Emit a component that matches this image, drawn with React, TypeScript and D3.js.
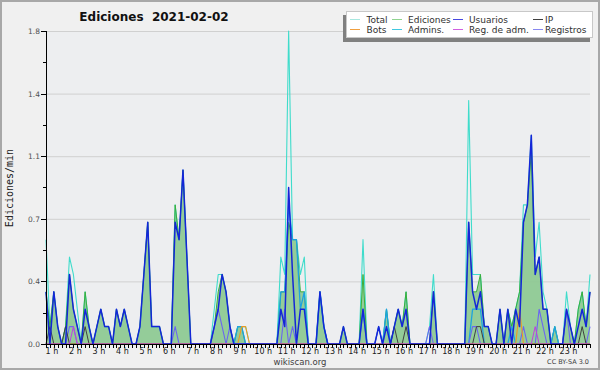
import React, { useEffect, useRef } from 'react';
import * as d3 from 'd3';

// one value every 10 minutes, first slot at 00:50
const total = [
  0.6, 0.1, 0.3, 0.1, 0, 0.1, 0.5, 0.4, 0.2, 0,
  0.3, 0.1, 0, 0.1, 0.2, 0.1, 0.1, 0, 0.2, 0.1,
  0.2, 0.1, 0, 0, 0.1, 0.4, 0.7, 0.1, 0.1, 0.1,
  0, 0, 0, 0.8, 0.6, 1.0, 0.5, 0, 0, 0,
  0, 0, 0, 0.2, 0.4, 0.4, 0.3, 0.1, 0, 0.1,
  0.1, 0.1, 0, 0, 0, 0, 0, 0, 0, 0,
  0.5, 0.4, 1.8, 0.6, 0.6, 0.4, 0.5, 0, 0, 0,
  0.3, 0.1, 0, 0, 0, 0, 0.1, 0, 0, 0,
  0, 0.6, 0, 0, 0, 0.1, 0, 0.2, 0, 0.1,
  0.2, 0.1, 0.3, 0, 0, 0, 0, 0, 0.1, 0.4,
  0, 0, 0, 0, 0, 0, 0, 0, 1.4, 0.4,
  0.4, 0.4, 0.1, 0.1, 0, 0, 0.2, 0, 0.2, 0.1,
  0.2, 0.3, 0.8, 0.8, 1.2, 0.5, 0.7, 0.3, 0.2, 0,
  0.1, 0, 0, 0.3, 0.1, 0, 0.2, 0.3, 0.1, 0.4,
];
const ediciones = [
  0.3, 0.1, 0.3, 0.1, 0, 0.1, 0.4, 0.2, 0.1, 0,
  0.3, 0.1, 0, 0.1, 0.2, 0.1, 0.1, 0, 0.2, 0.1,
  0.2, 0.1, 0, 0, 0.1, 0.4, 0.7, 0.1, 0.1, 0.1,
  0, 0, 0, 0.8, 0.6, 1.0, 0.5, 0, 0, 0,
  0, 0, 0, 0.1, 0.3, 0.4, 0.3, 0.1, 0, 0.1,
  0.1, 0, 0, 0, 0, 0, 0, 0, 0, 0,
  0.3, 0.3, 0.7, 0.6, 0.6, 0.3, 0.3, 0, 0, 0,
  0.3, 0.1, 0, 0, 0, 0, 0.1, 0, 0, 0,
  0, 0.4, 0, 0, 0, 0, 0, 0.2, 0, 0.1,
  0.2, 0.1, 0.3, 0, 0, 0, 0, 0, 0, 0.3,
  0, 0, 0, 0, 0, 0, 0, 0, 0.7, 0.3,
  0.3, 0.4, 0.1, 0.1, 0, 0, 0.2, 0, 0.2, 0.1,
  0.2, 0.3, 0.7, 0.8, 1.1, 0.4, 0.5, 0.2, 0.2, 0,
  0.1, 0, 0, 0.2, 0.1, 0, 0.2, 0.3, 0.1, 0.3,
];
const usuarios = [
  0.3, 0, 0.3, 0.1, 0, 0, 0.4, 0.2, 0.1, 0,
  0.2, 0.1, 0, 0.1, 0.2, 0.1, 0.1, 0, 0.2, 0.1,
  0.2, 0.1, 0, 0, 0.1, 0.4, 0.7, 0.1, 0.1, 0.1,
  0, 0, 0, 0.7, 0.6, 1.0, 0.5, 0, 0, 0,
  0, 0, 0, 0.1, 0.2, 0.4, 0.3, 0.1, 0, 0,
  0, 0, 0, 0, 0, 0, 0, 0, 0, 0,
  0.2, 0.1, 0.9, 0.4, 0, 0.2, 0.2, 0, 0, 0,
  0.3, 0.1, 0, 0, 0, 0, 0.1, 0, 0, 0,
  0, 0.2, 0, 0, 0, 0.1, 0, 0.1, 0, 0.1,
  0.2, 0.1, 0.2, 0, 0, 0, 0, 0, 0, 0.3,
  0, 0, 0, 0, 0, 0, 0, 0, 0.7, 0.3,
  0.2, 0.3, 0.1, 0.1, 0, 0, 0.2, 0, 0.2, 0,
  0.2, 0.1, 0.7, 0.8, 1.2, 0.4, 0.5, 0.2, 0.2, 0,
  0, 0, 0, 0.2, 0.1, 0, 0.1, 0.2, 0.1, 0.3,
];
const ip = [
  0, 0.1, 0, 0, 0, 0.1, 0, 0, 0, 0,
  0.1, 0, 0, 0, 0, 0, 0, 0, 0, 0,
  0, 0, 0, 0, 0, 0, 0, 0, 0, 0,
  0, 0, 0, 0, 0, 0, 0, 0, 0, 0,
  0, 0, 0, 0, 0, 0, 0, 0, 0, 0,
  0, 0, 0, 0, 0, 0, 0, 0, 0, 0,
  0, 0, 0, 0, 0, 0, 0, 0, 0, 0,
  0, 0, 0, 0, 0, 0, 0, 0, 0, 0,
  0, 0, 0, 0, 0, 0, 0, 0, 0, 0.1,
  0, 0, 0.1, 0, 0, 0, 0, 0, 0, 0,
  0, 0, 0, 0, 0, 0, 0, 0, 0, 0,
  0.1, 0.1, 0, 0, 0, 0, 0, 0, 0, 0,
  0, 0, 0, 0, 0, 0, 0, 0, 0, 0,
  0, 0, 0, 0, 0, 0, 0, 0.1, 0, 0,
];
const bots = [
  0, 0, 0, 0, 0, 0, 0, 0, 0, 0,
  0, 0, 0, 0, 0, 0, 0, 0, 0, 0,
  0, 0, 0, 0, 0, 0, 0, 0, 0, 0,
  0, 0, 0, 0, 0, 0, 0, 0, 0, 0,
  0, 0, 0, 0, 0, 0, 0, 0, 0, 0,
  0.1, 0.1, 0, 0, 0, 0, 0, 0, 0, 0,
  0, 0, 0, 0, 0, 0, 0, 0, 0, 0,
  0, 0, 0, 0, 0, 0, 0, 0, 0, 0,
  0, 0, 0, 0, 0, 0, 0, 0, 0, 0,
  0, 0, 0, 0, 0, 0, 0, 0, 0, 0,
  0, 0, 0, 0, 0, 0, 0, 0, 0, 0,
  0, 0, 0, 0, 0, 0, 0, 0, 0, 0,
  0, 0.2, 0, 0, 0, 0, 0, 0, 0, 0,
  0, 0, 0, 0, 0, 0, 0, 0, 0, 0,
];
const admins = [
  0, 0, 0, 0, 0, 0, 0, 0, 0, 0,
  0, 0, 0, 0, 0, 0, 0, 0, 0, 0,
  0, 0, 0, 0, 0, 0, 0, 0, 0, 0,
  0, 0, 0, 0, 0, 0, 0, 0, 0, 0,
  0, 0, 0, 0, 0, 0, 0, 0, 0, 0.1,
  0.1, 0, 0, 0, 0, 0, 0, 0, 0, 0,
  0.3, 0.3, 0.8, 0.6, 0.6, 0.2, 0.3, 0, 0, 0,
  0.3, 0.1, 0, 0, 0, 0, 0, 0, 0, 0,
  0, 0.2, 0, 0, 0, 0, 0, 0.2, 0, 0,
  0, 0, 0, 0, 0, 0, 0, 0, 0, 0,
  0, 0, 0, 0, 0, 0, 0, 0, 0, 0.2,
  0.2, 0.2, 0, 0, 0, 0, 0, 0, 0, 0.1,
  0, 0, 0, 0, 0, 0, 0, 0, 0, 0,
  0.1, 0, 0, 0, 0, 0, 0, 0, 0, 0,
];
const regAdm = [
  0, 0, 0, 0, 0, 0, 0, 0.1, 0, 0,
  0, 0, 0, 0, 0, 0, 0, 0, 0, 0,
  0, 0, 0, 0, 0, 0, 0, 0, 0, 0,
  0, 0, 0, 0, 0, 0, 0, 0, 0, 0,
  0, 0, 0, 0, 0, 0, 0, 0, 0, 0,
  0, 0, 0, 0, 0, 0, 0, 0, 0, 0,
  0, 0, 0, 0, 0, 0, 0, 0, 0, 0,
  0, 0, 0, 0, 0, 0, 0, 0, 0, 0,
  0, 0, 0, 0, 0, 0, 0, 0, 0, 0,
  0, 0, 0, 0, 0, 0, 0, 0, 0, 0,
  0, 0, 0, 0, 0, 0, 0, 0, 0, 0,
  0, 0, 0, 0, 0, 0, 0, 0, 0, 0,
  0, 0, 0, 0, 0, 0.1, 0, 0, 0, 0,
  0, 0, 0, 0, 0, 0, 0, 0, 0, 0,
];
const registros = [
  0, 0, 0, 0, 0, 0, 0.1, 0.1, 0, 0,
  0, 0, 0, 0, 0, 0, 0, 0, 0, 0,
  0, 0, 0, 0, 0, 0, 0, 0, 0, 0,
  0, 0, 0, 0.1, 0, 0, 0, 0, 0, 0,
  0, 0, 0, 0.1, 0.2, 0.1, 0, 0.1, 0, 0,
  0, 0, 0, 0, 0, 0, 0, 0, 0, 0,
  0, 0.2, 0, 0.1, 0, 0, 0, 0, 0, 0,
  0, 0, 0, 0, 0, 0, 0, 0, 0, 0,
  0, 0, 0, 0, 0, 0.1, 0, 0, 0, 0,
  0, 0, 0, 0, 0, 0, 0, 0, 0.1, 0,
  0, 0, 0, 0, 0, 0, 0, 0, 0, 0.1,
  0.1, 0, 0, 0, 0, 0, 0, 0, 0, 0,
  0, 0, 0.1, 0, 0, 0, 0.2, 0.1, 0, 0,
  0, 0, 0, 0.2, 0, 0, 0, 0, 0, 0.1,
];

const yTicks = [0, 0.36, 0.72, 1.08, 1.44, 1.8];
const hourLabels = d3.range(1, 24);

const legendNames = ['Total', 'Ediciones', 'Usuarios', 'IP', 'Bots', 'Admins.', 'Reg. de adm.', 'Registros'];
const legendColors = ['#a8e8e0', '#90d490', '#4848e0', '#404040', '#f0a040', '#40c8e0', '#d060e0', '#8888f0'];

const FONT = 'DejaVu Sans, Verdana, sans-serif';

const App = () => {
  const chartRef = useRef<SVGSVGElement | null>(null);

  useEffect(() => {
    if (chartRef.current) drawChart();
  }, []);

  const drawChart = () => {
    const svg = d3.select(chartRef.current);
    svg.selectAll('*').remove();

    const width = 600;
    const height = 370;
    const left = 46, right = 590, top = 31, bottom = 344;

    const start = 5 / 6;
    const x = d3.scaleLinear().domain([start, 24]).range([left, right]);
    const y = d3.scaleLinear().domain([0, 1.8]).range([bottom, top]);
    const t = (i: number) => start + i / 6;

    svg.append('rect')
      .attr('x', 1).attr('y', 1).attr('width', width - 2).attr('height', height - 2)
      .attr('fill', '#f0f0f0').attr('stroke', '#a8a8a8').attr('stroke-width', 2);
    svg.append('rect')
      .attr('x', left).attr('y', top).attr('width', right - left).attr('height', bottom - top)
      .attr('fill', '#edeef0');

    // grid
    svg.append('g')
      .selectAll('line')
      .data(yTicks.slice(1))
      .enter()
      .append('line')
      .attr('x1', left).attr('x2', right)
      .attr('y1', d => y(d) + 0.5).attr('y2', d => y(d) + 0.5)
      .attr('stroke', '#d0d0d0');

    // Ediciones area
    const area = d3.area<number>()
      .x((d, i) => x(t(i)))
      .y0(y(0))
      .y1(d => y(d));
    svg.append('path')
      .attr('d', area(ediciones))
      .attr('fill', '#8fc994')
      .attr('fill-opacity', 0.95);

    const line = d3.line<number>()
      .x((d, i) => x(t(i)))
      .y(d => y(d));

    const series: [number[], string, number][] = [
      [total, '#3fdccb', 1.1],
      [ediciones, '#3aae3a', 1],
      [admins, '#1ea2e0', 1.3],
      [registros, '#6a66f0', 1.1],
      [ip, '#404040', 1],
      [bots, '#f09a20', 1.1],
      [regAdm, '#c040e0', 1],
      [usuarios, '#1426d8', 1.5],
    ];
    series.forEach(([vals, color, w]) => {
      svg.append('path')
        .attr('d', line(vals))
        .attr('fill', 'none')
        .attr('stroke', color)
        .attr('stroke-width', w)
        .attr('stroke-linejoin', 'round');
    });

    // y axis
    const ya = svg.append('g');
    ya.append('line')
      .attr('x1', left + 0.5).attr('x2', left + 0.5).attr('y1', top).attr('y2', bottom)
      .attr('stroke', '#000');
    ya.selectAll('.maj')
      .data(yTicks)
      .enter()
      .append('line')
      .attr('x1', left - 5).attr('x2', left)
      .attr('y1', d => Math.round(y(d)) + 0.5).attr('y2', d => Math.round(y(d)) + 0.5)
      .attr('stroke', '#000');
    ya.selectAll('.min')
      .data(yTicks.slice(1).map(d => d - 0.18))
      .enter()
      .append('line')
      .attr('x1', left - 3).attr('x2', left)
      .attr('y1', d => Math.round(y(d)) + 0.5).attr('y2', d => Math.round(y(d)) + 0.5)
      .attr('stroke', '#000');
    ya.selectAll('text')
      .data(yTicks)
      .enter()
      .append('text')
      .attr('x', left - 6)
      .attr('y', d => y(d) + 3)
      .attr('text-anchor', 'end')
      .attr('font-family', FONT)
      .attr('font-size', 7.5)
      .attr('fill', '#505050')
      .text(d => d.toFixed(1));

    // x axis
    const xa = svg.append('g');
    xa.append('line')
      .attr('x1', left).attr('x2', right).attr('y1', bottom + 0.5).attr('y2', bottom + 0.5)
      .attr('stroke', '#000');
    xa.selectAll('.tk')
      .data(total)
      .enter()
      .append('line')
      .attr('x1', (d, i) => Math.round(x(t(i))) + 0.5)
      .attr('x2', (d, i) => Math.round(x(t(i))) + 0.5)
      .attr('y1', bottom).attr('y2', bottom + 4)
      .attr('stroke', '#000');
    xa.selectAll('text')
      .data(hourLabels)
      .enter()
      .append('text')
      .attr('x', d => x(d) + 2)
      .attr('y', bottom + 10)
      .attr('text-anchor', 'middle')
      .attr('font-family', FONT)
      .attr('font-size', 8)
      .attr('fill', '#202020')
      .text(d => `${d} h`);

    // titles
    svg.append('text')
      .attr('x', 154).attr('y', 21)
      .attr('text-anchor', 'middle')
      .attr('font-family', FONT)
      .attr('font-weight', 'bold')
      .attr('font-size', 12)
      .attr('fill', '#111')
      .attr('xml:space', 'preserve')
      .text('Ediciones  2021-02-02');
    svg.append('text')
      .attr('transform', `translate(13, 188) rotate(-90)`)
      .attr('text-anchor', 'middle')
      .attr('font-family', 'DejaVu Sans Mono, monospace')
      .attr('font-size', 10)
      .attr('fill', '#202020')
      .text('Ediciones/min');
    svg.append('text')
      .attr('x', 300).attr('y', 365)
      .attr('text-anchor', 'middle')
      .attr('font-family', FONT)
      .attr('font-size', 8.5)
      .attr('fill', '#404040')
      .text('wikiscan.org');
    svg.append('text')
      .attr('x', 589).attr('y', 364)
      .attr('text-anchor', 'end')
      .attr('font-family', FONT)
      .attr('font-size', 6.5)
      .attr('fill', '#404040')
      .text('CC BY-SA 3.0');

    // legend
    const lg = svg.append('g');
    lg.append('rect')
      .attr('x', 343).attr('y', 15).attr('width', 247).attr('height', 27)
      .attr('fill', '#808080');
    lg.append('rect')
      .attr('x', 346.5).attr('y', 11.5).attr('width', 246).attr('height', 26)
      .attr('fill', '#ffffff').attr('stroke', '#c8c8c8');
    const colX = [350, 392, 453, 533];
    const textX = [366.5, 408, 469, 545];
    const items = lg.selectAll('.item')
      .data(legendNames)
      .enter()
      .append('g');
    items.append('line')
      .attr('x1', (d, i) => colX[i % 4])
      .attr('x2', (d, i) => colX[i % 4] + 10)
      .attr('y1', (d, i) => (i < 4 ? 19.5 : 29.5))
      .attr('y2', (d, i) => (i < 4 ? 19.5 : 29.5))
      .attr('stroke', (d, i) => legendColors[i]);
    items.append('text')
      .attr('x', (d, i) => textX[i % 4])
      .attr('y', (d, i) => (i < 4 ? 22.5 : 32.5))
      .attr('font-family', FONT)
      .attr('font-size', 9)
      .attr('fill', '#303030')
      .text(d => d);
  };

  return <svg ref={chartRef} width="600" height="370" style={{ position: 'absolute', left: 0, top: 0 }} />;
};

export default App;
